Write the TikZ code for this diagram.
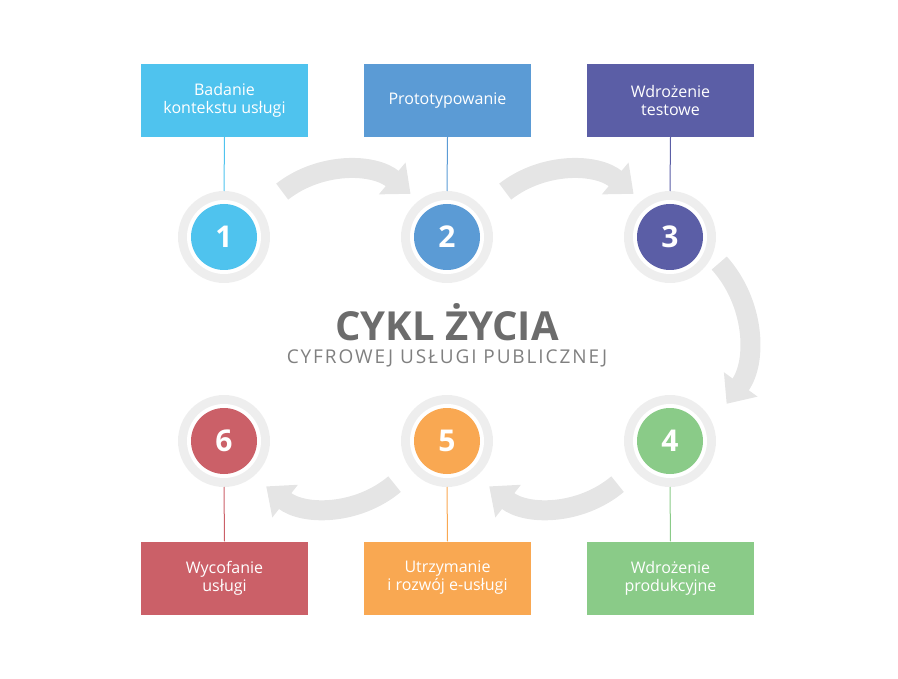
\documentclass[tikz,border=0pt]{standalone}
\usepackage{fontspec}
\setmainfont{Open Sans}
\newfontfamily\spaced[LetterSpace=10]{Open Sans}
\usetikzlibrary{arrows.meta}
\definecolor{cA}{HTML}{4FC3EE}
\definecolor{cB}{HTML}{5B9BD5}
\definecolor{cC}{HTML}{5B5EA6}
\definecolor{cD}{HTML}{8ACB88}
\definecolor{cE}{HTML}{F9A852}
\definecolor{cF}{HTML}{CB6068}
\definecolor{ring}{HTML}{EEEEEE}
\definecolor{band}{HTML}{E5E5E5}
\tikzset{
  stepbox/.style={minimum width=167pt,minimum height=73pt,text=white,
    align=center,font=\fontsize{16}{18}\selectfont,inner sep=0pt},
  bigarrow/.style={draw=band,line width=20pt,
    -{Triangle[width=40pt,length=24pt]}},
  link/.style={line width=1pt},
}
\newcommand\stage[4]{% name, position, colour, number
  \fill[ring] (#2) circle (46pt);
  \fill[white] (#2) circle (37pt);
  \node[circle,fill=#3,minimum size=66pt,inner sep=0pt,text=white,
    font=\fontsize{30}{30}\bfseries\selectfont] (#1) at (#2) {#4};
}
\begin{document}
\begin{tikzpicture}[x=1pt,y=-1pt]
  \useasboundingbox (0,0) rectangle (898,679);
  % boxes
  \node[stepbox,fill=cA] (bA) at (224.5,100.5) {Badanie\\kontekstu usługi};
  \node[stepbox,fill=cB] (bB) at (447.5,100.5) {Prototypowanie};
  \node[stepbox,fill=cC] (bC) at (670.5,100.5) {Wdrożenie\\testowe};
  \node[stepbox,fill=cD] (bD) at (670.5,578) {Wdrożenie\\produkcyjne};
  \node[stepbox,fill=cE] (bE) at (447.5,578) {Utrzymanie\\i rozwój e-usługi};
  \node[stepbox,fill=cF] (bF) at (224.5,578) {Wycofanie\\usługi};
  % circles
  \stage{sA}{224,237}{cA}{1}
  \stage{sB}{447,237}{cB}{2}
  \stage{sC}{670,237}{cC}{3}
  \stage{sD}{670,441}{cD}{4}
  \stage{sE}{447,441}{cE}{5}
  \stage{sF}{224,441}{cF}{6}
  \draw[link,cA] (bA.south) -- (224,191);
  \draw[link,cB] (bB.south) -- (447,191);
  \draw[link,cC] (bC.south) -- (670,191);
  \draw[link,cD] (bD.north) -- (670,487);
  \draw[link,cE] (bE.north) -- (447,487);
  \draw[link,cF] (bF.north) -- (224,487);
  % arrows
  \draw[bigarrow] (345,272) ++(-128:102) arc (-128:-50:102);
  \draw[bigarrow] (568,272) ++(-128:102) arc (-128:-50:102);
  \draw[bigarrow] (636,338) ++(-42:112) arc (-42:36:112);
  \draw[bigarrow] (552,406) ++(50:102) arc (50:128:102);
  \draw[bigarrow] (329,406) ++(50:102) arc (50:128:102);
  % title
  \node[text=gray!85!black,font=\fontsize{40}{42}\bfseries\selectfont] (title) at (447,322) {CYKL ŻYCIA};
  \node[text=gray,font=\spaced\fontsize{19}{21}\selectfont] (sub) at (447,358) {CYFROWEJ USŁUGI PUBLICZNEJ};
\end{tikzpicture}
\end{document}
